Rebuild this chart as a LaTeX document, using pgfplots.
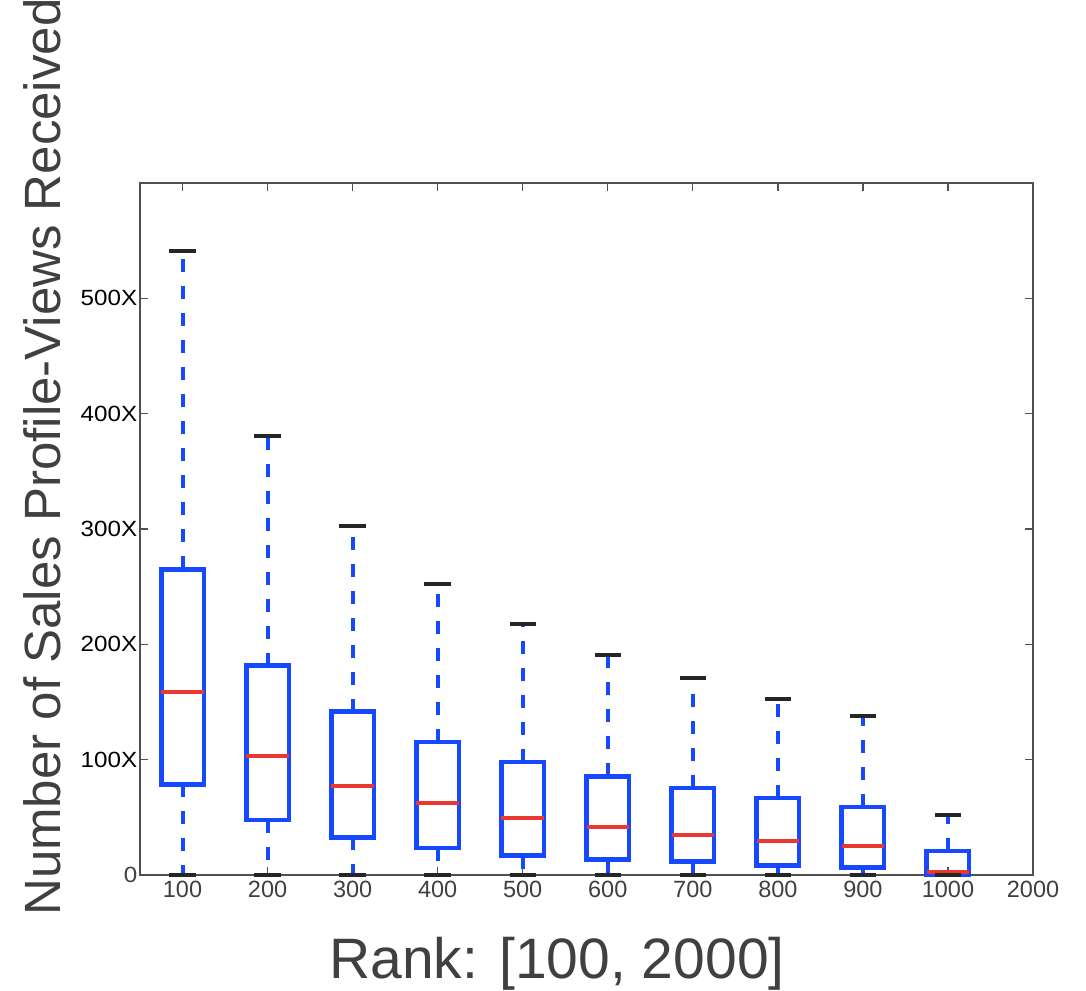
\documentclass[border=0pt]{standalone}
\usepackage{pgfplots}
\pgfplotsset{compat=1.18}
\usepackage{fontspec}
\setmainfont{Liberation Sans}
\definecolor{bxblue}{RGB}{22,72,255}
\definecolor{mdred}{RGB}{235,55,50}
\definecolor{axgray}{RGB}{80,80,80}
\definecolor{lblgray}{RGB}{64,64,64}
\begin{document}
\begin{tikzpicture}
\useasboundingbox (0,0) rectangle (1086pt,990pt);
\begin{axis}[
  at={(140pt,115pt)}, anchor=south west,
  scale only axis, width=893pt, height=692pt,
  xmin=0.5, xmax=11, ymin=0, ymax=600,
  xtick={1,2,3,4,5,6,7,8,9,10,11},
  xticklabels={100,200,300,400,500,600,700,800,900,1000,2000},
  ytick={0,100,200,300,400,500},
  yticklabels={\textcolor{lblgray}{0},100X,200X,300X,400X,500X},
  tick align=inside,
  major tick length=8pt,
  tick style={axgray, line width=1.3pt},
  axis line style={axgray, line width=2.5pt},
  /pgf/number format/assume math mode=true,
  x tick label style={font=\fontsize{23.5}{23.5}\selectfont, text=lblgray, yshift=-3pt},
  y tick label style={font=\fontsize{22}{22}\selectfont, text=black, xscale=1.1, xshift=1pt},
  xlabel={Rank: [100, 2000]},
  ylabel={Number of Sales Profile-Views Received},
  xlabel style={font=\fontsize{57}{57}\selectfont, text=lblgray,
    at={(axis description cs:0.467,-0.149)}, anchor=base},
  ylabel style={font=\fontsize{51}{51}\selectfont, text=lblgray,
    at={(axis description cs:-0.0895,0.604)}, anchor=base},
  unbounded coords=jump,
  clip=false,
]
% whiskers (dashed)
\addplot[bxblue, line width=4pt, dash pattern=on 13pt off 14pt] coordinates {
(1,265) (1,541) (nan,nan) (1,78.6) (1,0) (nan,nan)
(2,181.5) (2,381) (nan,nan) (2,47.5) (2,0) (nan,nan)
(3,141.7) (3,303) (nan,nan) (3,32.6) (3,0) (nan,nan)
(4,115.2) (4,252.6) (nan,nan) (4,23.6) (4,0) (nan,nan)
(5,98) (5,217.5) (nan,nan) (5,16.7) (5,0) (nan,nan)
(6,85.6) (6,191) (nan,nan) (6,13.4) (6,0) (nan,nan)
(7,75.4) (7,171) (nan,nan) (7,11.5) (7,0) (nan,nan)
(8,66.8) (8,152.7) (nan,nan) (8,8.1) (8,0) (nan,nan)
(9,59) (9,137.7) (nan,nan) (9,6.6) (9,0) (nan,nan)
(10,20.7) (10,51.9) (nan,nan) (10,0.3) (10,0)
};
% boxes (lower quartile to upper quartile)
\addplot[bxblue, line width=4.5pt, line join=miter] coordinates {
(0.75,78.6) (1.25,78.6) (1.25,265) (0.75,265) (0.75,78.6) (1.25,78.6) (nan,nan)
(1.75,47.5) (2.25,47.5) (2.25,181.5) (1.75,181.5) (1.75,47.5) (2.25,47.5) (nan,nan)
(2.75,32.6) (3.25,32.6) (3.25,141.7) (2.75,141.7) (2.75,32.6) (3.25,32.6) (nan,nan)
(3.75,23.6) (4.25,23.6) (4.25,115.2) (3.75,115.2) (3.75,23.6) (4.25,23.6) (nan,nan)
(4.75,16.7) (5.25,16.7) (5.25,98) (4.75,98) (4.75,16.7) (5.25,16.7) (nan,nan)
(5.75,13.4) (6.25,13.4) (6.25,85.6) (5.75,85.6) (5.75,13.4) (6.25,13.4) (nan,nan)
(6.75,11.5) (7.25,11.5) (7.25,75.4) (6.75,75.4) (6.75,11.5) (7.25,11.5) (nan,nan)
(7.75,8.1) (8.25,8.1) (8.25,66.8) (7.75,66.8) (7.75,8.1) (8.25,8.1) (nan,nan)
(8.75,6.6) (9.25,6.6) (9.25,59) (8.75,59) (8.75,6.6) (9.25,6.6) (nan,nan)
(9.75,0.3) (10.25,0.3) (10.25,20.7) (9.75,20.7) (9.75,0.3) (10.25,0.3)
};
% medians
\addplot[mdred, line width=4pt] coordinates {
(0.75,159) (1.25,159) (nan,nan)
(1.75,103) (2.25,103) (nan,nan)
(2.75,77) (3.25,77) (nan,nan)
(3.75,62) (4.25,62) (nan,nan)
(4.75,49.5) (5.25,49.5) (nan,nan)
(5.75,41.8) (6.25,41.8) (nan,nan)
(6.75,34.6) (7.25,34.6) (nan,nan)
(7.75,29.4) (8.25,29.4) (nan,nan)
(8.75,25.3) (9.25,25.3) (nan,nan)
(9.75,3) (10.25,3)
};
% whisker caps
\addplot[black!85, line width=4pt] coordinates {
(0.845,541) (1.155,541) (nan,nan) (0.845,0) (1.155,0) (nan,nan)
(1.845,381) (2.155,381) (nan,nan) (1.845,0) (2.155,0) (nan,nan)
(2.845,303) (3.155,303) (nan,nan) (2.845,0) (3.155,0) (nan,nan)
(3.845,252.6) (4.155,252.6) (nan,nan) (3.845,0) (4.155,0) (nan,nan)
(4.845,217.5) (5.155,217.5) (nan,nan) (4.845,0) (5.155,0) (nan,nan)
(5.845,191) (6.155,191) (nan,nan) (5.845,0) (6.155,0) (nan,nan)
(6.845,171) (7.155,171) (nan,nan) (6.845,0) (7.155,0) (nan,nan)
(7.845,152.7) (8.155,152.7) (nan,nan) (7.845,0) (8.155,0) (nan,nan)
(8.845,137.7) (9.155,137.7) (nan,nan) (8.845,0) (9.155,0) (nan,nan)
(9.845,51.9) (10.155,51.9) (nan,nan) (9.845,0) (10.155,0)
};
\end{axis}
\end{tikzpicture}
\end{document}
